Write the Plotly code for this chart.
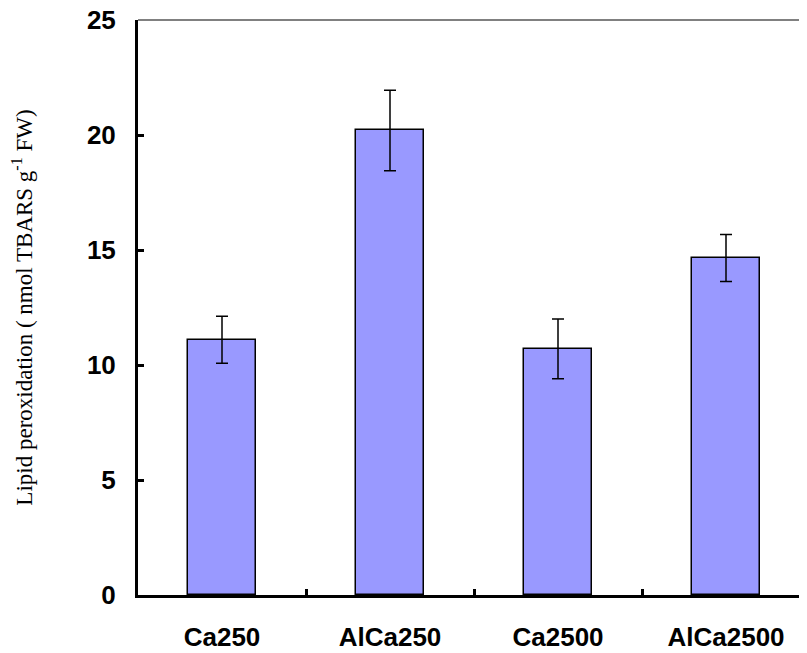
import plotly.graph_objects as go

categories = ["Ca250", "AlCa250", "Ca2500", "AlCa2500"]
values = [11.1, 20.2, 10.7, 14.65]
errors = [1.02, 1.75, 1.3, 1.02]
y_ticks = [0, 5, 10, 15, 20, 25]

fig = go.Figure()
fig.add_trace(go.Bar(
    x=categories, y=values,
    width=0.41,
    marker=dict(color="#9999FF", line=dict(color="black", width=1.5)),
    error_y=dict(type="data", array=errors, visible=True, color="black",
                 thickness=1.5, width=6),
))

# grey top border of the plot area
fig.add_shape(type="line", xref="paper", yref="paper", x0=0, x1=1, y0=1, y1=1,
              line=dict(color="#808080", width=2), layer="below")

tick_font = dict(family="Liberation Sans, Arial, sans-serif", size=26, color="black",
                 weight="bold")

fig.update_layout(
    width=807, height=653,
    margin=dict(l=130, r=5, t=12, b=66, autoexpand=False),
    plot_bgcolor="white", paper_bgcolor="white",
    showlegend=False,
    bargap=0,
    xaxis=dict(
        range=[-0.5, 3.5], automargin=False,
        showline=True, linecolor="black", linewidth=3,
        ticks="inside", tickson="boundaries", ticklen=6, tickwidth=3, tickcolor="black",
        tickfont=tick_font, ticklabelstandoff=17, ticklabeloverflow="allow",
        showgrid=False, zeroline=False,
    ),
    yaxis=dict(
        range=[0, 25], tickvals=y_ticks, automargin=False,
        showline=True, linecolor="black", linewidth=3,
        ticks="inside", ticklen=6, tickwidth=3, tickcolor="black",
        tickfont=tick_font, ticklabelstandoff=14, ticklabeloverflow="allow",
        showgrid=False, zeroline=False,
        title=dict(text="Lipid peroxidation ( nmol TBARS g<sup>-1</sup> FW)",
                   font=dict(family="Liberation Serif, Times New Roman, serif", size=23, color="black"),
                   standoff=50),
    ),
)

fig.write_html("out.html")
